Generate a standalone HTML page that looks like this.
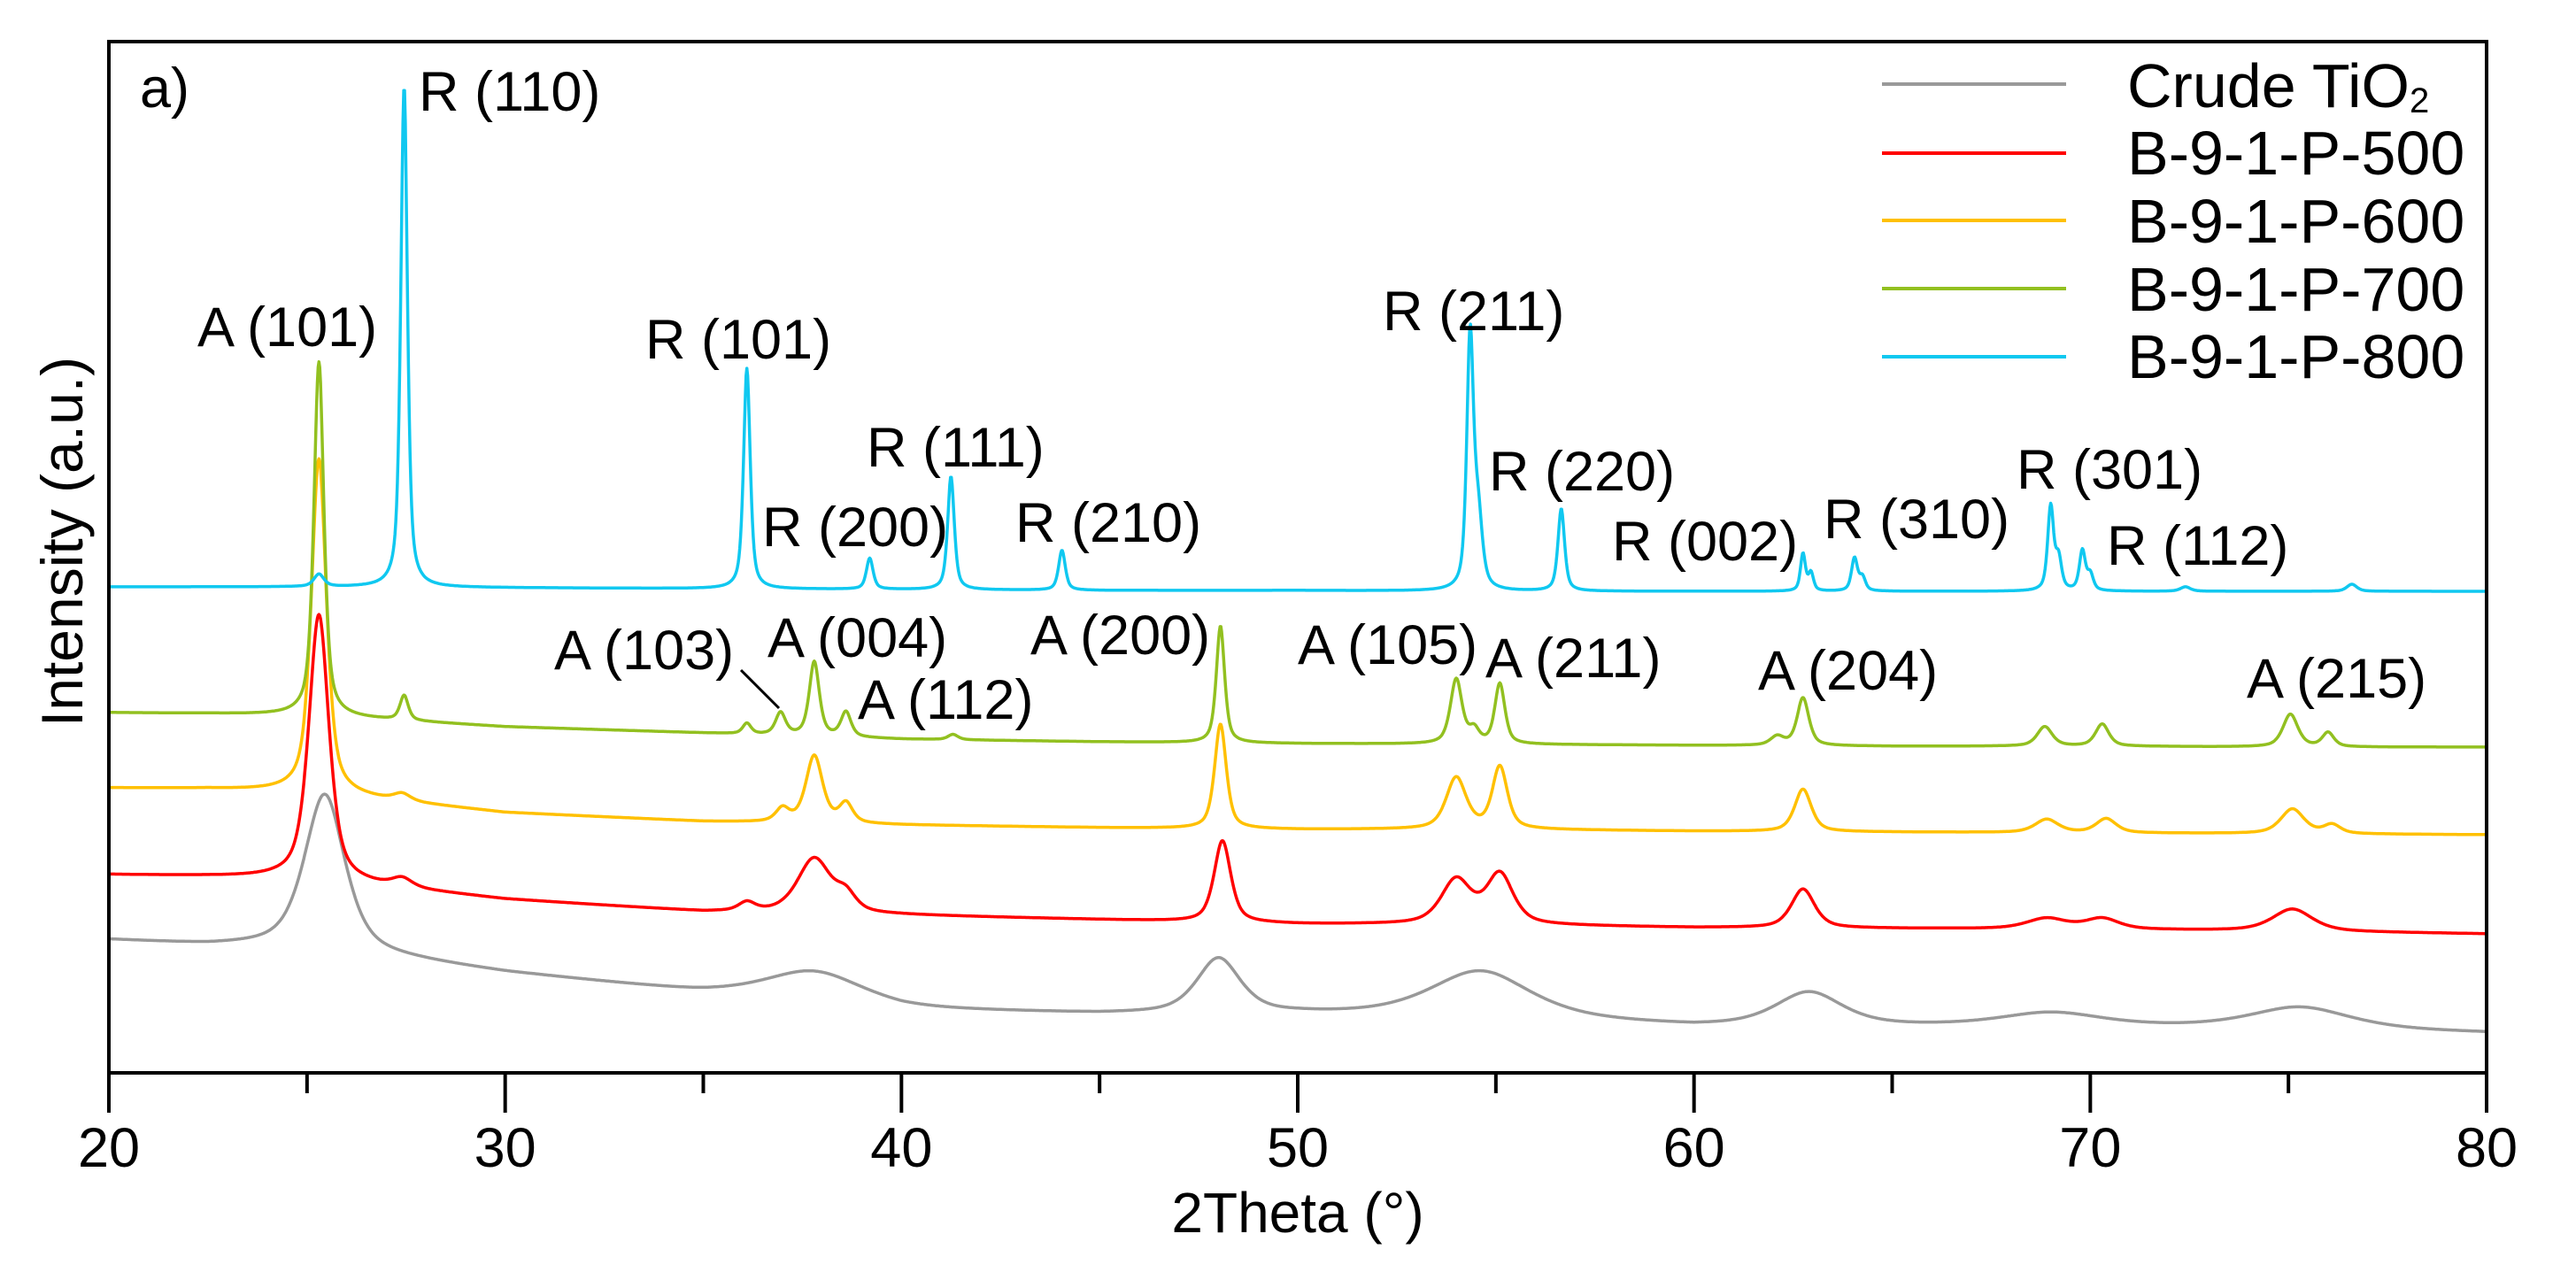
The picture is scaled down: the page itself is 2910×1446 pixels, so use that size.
<!DOCTYPE html>
<html><head><meta charset="utf-8">
<style>
html,body{margin:0;padding:0;background:#fff;}
svg{display:block;font-family:"Liberation Sans",Arial,sans-serif;}
</style></head>
<body>
<svg id="chart" width="2910" height="1446" viewBox="0 0 2910 1446" xmlns="http://www.w3.org/2000/svg">
<g id="series"></g>
<g id="axes"></g>
<g id="labels"></g>
<g id="legend"></g>
</svg>
<script>
// ---- data ----
const xTicks = [20, 30, 40, 50, 60, 70, 80];
const xMinorTicks = [25, 35, 45, 55, 65, 75];
const bgX = [20, 22.5, 25, 30, 35, 40, 45, 50, 55, 60, 65, 70, 75, 80];
const seriesNames = ["Crude TiO2", "B-9-1-P-500", "B-9-1-P-600", "B-9-1-P-700", "B-9-1-P-800"];
const seriesColors = ["#999999", "#ff0000", "#ffc000", "#92c020", "#10c8f0"];
const bgCrude = [150, 144, 142, 113, 90, 71, 66, 66, 62, 52, 52, 52, 50, 45];
const bg500 = [224, 222, 219, 196, 182, 178, 173, 168, 167, 164, 163, 162, 160, 157];
const bg600 = [322, 321, 317, 294, 284, 280, 277, 275, 275, 273, 272, 271, 270, 269];
const bg700 = [407, 406, 404, 391, 384, 377, 374, 372, 371, 370, 369, 369, 368, 368];
const bg800 = [549, 549, 549, 548, 547, 546, 545, 545, 544, 544, 544, 544, 544, 544];
// peaks: position (2theta), height (intensity), FWHM (deg)
const posCrude = [25.45, 37.8, 48.0, 54.6, 62.9, 69.0, 75.3];
const hCrude = [175, 35, 62, 52, 38, 15, 24];
const wCrude = [1.2, 3.0, 1.3, 3.0, 2.0, 3.0, 3.0];
const pos500 = [25.3, 27.4, 36.1, 37.8, 38.6, 48.1, 54.0, 55.1, 62.75, 68.9, 70.3, 75.1];
const h500 = [300, 10, 10, 62, 18, 92, 50, 56, 44, 12, 12, 25];
const w500 = [0.6, 0.6, 0.5, 1.0, 0.6, 0.5, 0.9, 0.8, 0.7, 1.2, 1.0, 1.2];
const pos600 = [25.3, 27.4, 37.0, 37.8, 38.6, 48.05, 54.0, 55.1, 62.75, 68.9, 70.4, 75.1, 76.1];
const h600 = [378, 8, 15, 76, 22, 118, 58, 70, 48, 15, 16, 28, 10];
const w600 = [0.45, 0.5, 0.4, 0.5, 0.4, 0.35, 0.6, 0.45, 0.5, 0.7, 0.6, 0.7, 0.5];
const pos700 = [25.3, 27.45, 36.1, 36.95, 37.8, 38.6, 41.3, 48.05, 54.0, 54.45, 55.1, 62.1, 62.75, 68.85, 70.3, 75.05, 76.0];
const h700 = [400, 28, 12, 25, 84, 28, 6, 132, 73, 15, 68, 10, 54, 22, 25, 37, 16];
const w700 = [0.3, 0.25, 0.25, 0.3, 0.3, 0.3, 0.3, 0.25, 0.35, 0.3, 0.3, 0.4, 0.35, 0.45, 0.4, 0.45, 0.35];
const pos800 = [25.3, 27.45, 36.1, 39.2, 41.25, 44.05, 54.35, 54.55, 56.65, 62.75, 62.95, 64.05, 64.25, 69.0, 69.2, 69.8, 70.0, 72.4, 76.6];
const h800 = [14, 566, 249, 35, 128, 45, 283, 80, 93, 42, 20, 37, 15, 95, 35, 45, 18, 5, 8];
const w800 = [0.3, 0.2, 0.2, 0.2, 0.2, 0.2, 0.2, 0.25, 0.2, 0.15, 0.15, 0.18, 0.18, 0.18, 0.18, 0.18, 0.18, 0.3, 0.3];
const legendLabels = ["Crude TiO", "B-9-1-P-500", "B-9-1-P-600", "B-9-1-P-700", "B-9-1-P-800"];
const peakLabels = ["A (101)", "R (110)", "R (101)", "R (200)", "R (111)", "R (210)", "A (103)", "A (004)", "A (112)", "A (200)",
  "R (211)", "R (220)", "R (002)", "R (310)", "R (301)", "R (112)", "A (105)", "A (211)", "A (204)", "A (215)"];

// ---- layout ----
const L = 123, R = 2809, T = 47, B = 1212;
const xMin = 20, xMax = 80, yMin = 0, yMax = 1165;
const xs = v => L + (v - xMin) / (xMax - xMin) * (R - L);
const ys = v => B - (v - yMin) / (yMax - yMin) * (B - T);
const NS = "http://www.w3.org/2000/svg";
function mk(tag, attrs, parent) {
  const e = document.createElementNS(NS, tag);
  for (const k in attrs) e.setAttribute(k, attrs[k]);
  parent.appendChild(e);
  return e;
}
function bgAt(bg, x) {
  for (let i = 0; i < bgX.length - 1; i++) {
    if (x >= bgX[i] && x <= bgX[i + 1]) {
      const t = (x - bgX[i]) / (bgX[i + 1] - bgX[i]);
      return bg[i] + t * (bg[i + 1] - bg[i]);
    }
  }
  return bg[bg.length - 1];
}
function intensity(bg, pos, h, w, x) {
  let v = bgAt(bg, x);
  for (let i = 0; i < pos.length; i++) {
    const d = 2 * (x - pos[i]) / w[i];
    v += h[i] * (0.6 / (1 + d * d) + 0.4 * Math.exp(-0.693 * d * d));
  }
  return v;
}
const allSeries = [
  [bgCrude, posCrude, hCrude, wCrude],
  [bg500, pos500, h500, w500],
  [bg600, pos600, h600, w600],
  [bg700, pos700, h700, w700],
  [bg800, pos800, h800, w800]
];
const sg = document.getElementById('series');
const seriesKeys = ['crude', '500', '600', '700', '800'];
allSeries.forEach((s, si) => {
  let d = '';
  for (let x = xMin; x <= xMax + 1e-9; x += 0.02) {
    const v = intensity(s[0], s[1], s[2], s[3], x);
    d += (d ? 'L' : 'M') + xs(x).toFixed(1) + ',' + ys(v).toFixed(1);
  }
  const p = mk('path', {d: d, fill: 'none', stroke: seriesColors[si], 'stroke-width': 3.5, 'stroke-linejoin': 'round'}, sg);
  
  
});

// ---- axes ----
const ax = document.getElementById('axes');
const frame = mk('rect', {x: L, y: T, width: R - L, height: B - T, fill: 'none', stroke: '#000', 'stroke-width': 4}, ax);


xTicks.forEach(t => {
  const ln = mk('line', {x1: xs(t), x2: xs(t), y1: B, y2: B + 45, stroke: '#000', 'stroke-width': 4}, ax);
  
  
  const tx = mk('text', {x: xs(t), y: 1318, 'font-size': 63, 'text-anchor': 'middle', fill: '#000'}, ax);
  tx.textContent = t;
  
  
});
xMinorTicks.forEach(t => {
  const ln = mk('line', {x1: xs(t), x2: xs(t), y1: B, y2: B + 23, stroke: '#000', 'stroke-width': 4}, ax);
  
  
});
const xt = mk('text', {x: 1466, y: 1392, 'font-size': 64, 'text-anchor': 'middle', fill: '#000'}, ax);
xt.textContent = '2Theta (°)';


const yt = mk('text', {x: 0, y: 0, 'font-size': 66, 'text-anchor': 'middle', fill: '#000', transform: 'translate(93,612) rotate(-90)'}, ax);
yt.textContent = 'Intensity (a.u.)';


const pl = mk('text', {x: 158, y: 121, 'font-size': 63, fill: '#000'}, ax);
pl.textContent = 'a)';



// ---- peak labels ----
const lg = document.getElementById('labels');
const labelX = [223, 473, 729, 861, 979, 1147, 626, 867, 969, 1164, 1562, 1682, 1821, 2060, 2278, 2380, 1466, 1678, 1986, 2538];
const labelY = [391, 125, 405, 617, 527, 612, 756, 742, 812, 739, 373, 554, 633, 608, 552, 638, 750, 765, 779, 788];
peakLabels.forEach((s, i) => {
  const t = mk('text', {x: labelX[i], y: labelY[i], 'font-size': 63, fill: '#000'}, lg);
  t.textContent = s;
  
  
});
const leader = mk('line', {x1: 837, y1: 757, x2: 880, y2: 800, stroke: '#000', 'stroke-width': 3}, lg);



// ---- legend ----
const leg = document.getElementById('legend');
const legLineY = [95, 173, 249, 326, 403];
const legTextY = [121, 197, 274, 351, 427];
legendLabels.forEach((s, i) => {
  const ln = mk('line', {x1: 2126, x2: 2334, y1: legLineY[i], y2: legLineY[i], stroke: seriesColors[i], 'stroke-width': 4}, leg);
  
  
  const t = mk('text', {x: 2403, y: legTextY[i], 'font-size': 70, fill: '#000'}, leg);
  t.textContent = s;
  if (i === 0) {
    const sub = mk('tspan', {'font-size': 40, dy: 6}, t);
    sub.textContent = '2';
  }
  
  
});
</script>
</body></html>
